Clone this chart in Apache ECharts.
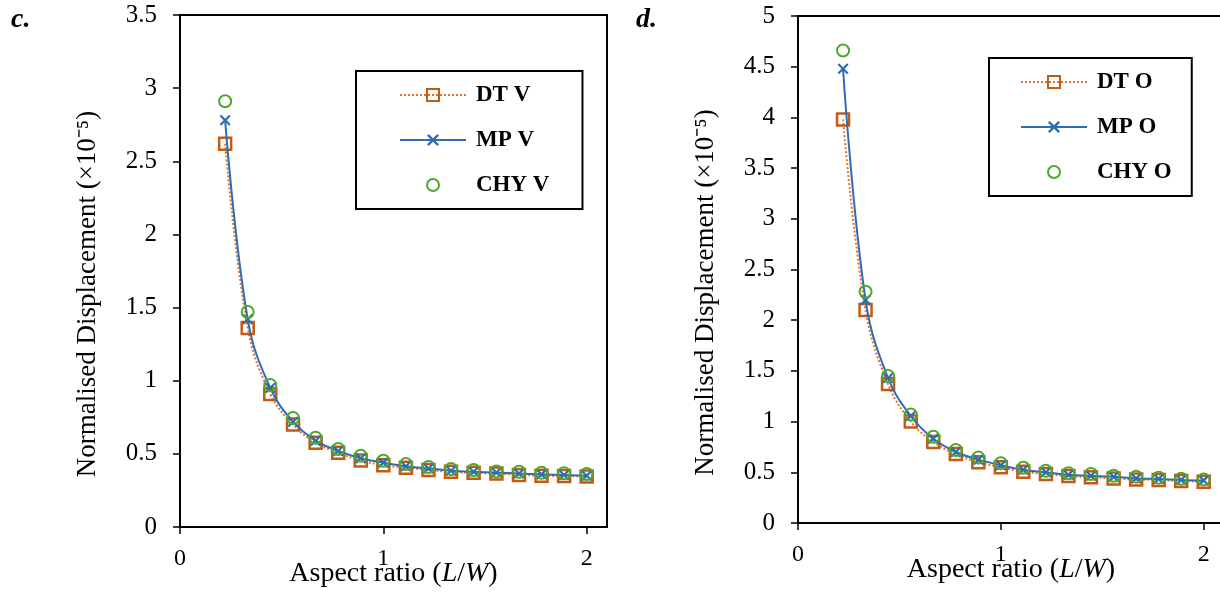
<!DOCTYPE html>
<html>
<head>
<meta charset="utf-8">
<script src="https://cdn.jsdelivr.net/npm/echarts@6/dist/echarts.min.js"></script>
<style>
html,body{margin:0;padding:0;background:#fff;}
#chart{width:1220px;height:592px;}
</style>
</head>
<body>
<div id="chart"></div>
<script>
// Aspect ratio L/W
const aspect = [0.222,0.333,0.444,0.556,0.667,0.778,0.889,1.0,1.111,1.222,1.333,1.444,1.556,1.667,1.778,1.889,2.0];
// Panel c (V)
const dtV  = [2.62,1.36,0.91,0.70,0.576,0.508,0.455,0.422,0.405,0.39,0.377,0.37,0.366,0.356,0.351,0.348,0.345];
const mpV  = [2.78,1.42,0.95,0.72,0.59,0.52,0.47,0.44,0.415,0.40,0.385,0.378,0.372,0.365,0.36,0.355,0.35];
const chyV = [2.91,1.47,0.97,0.745,0.61,0.533,0.487,0.453,0.43,0.41,0.396,0.39,0.38,0.378,0.37,0.367,0.362];
// Panel d (O)
const dtO  = [3.98,2.10,1.37,1.00,0.80,0.68,0.60,0.55,0.506,0.483,0.463,0.45,0.44,0.428,0.424,0.414,0.407];
const mpO  = [4.48,2.20,1.43,1.055,0.83,0.70,0.625,0.57,0.525,0.50,0.475,0.465,0.455,0.44,0.435,0.425,0.42];
const chyO = [4.66,2.28,1.45,1.07,0.85,0.72,0.645,0.59,0.545,0.516,0.49,0.483,0.466,0.457,0.447,0.437,0.43];

const xTicks = [0,1,2];
const yTicksC = [0,0.5,1,1.5,2,2.5,3,3.5];
const yTicksD = [0,0.5,1,1.5,2,2.5,3,3.5,4,4.5,5];
const namesC = ['DT V','MP V','CHY V'];
const namesD = ['DT O','MP O','CHY O'];
const xTitle = 'Aspect ratio ({i|L}/{i|W})';
const yTitle = 'Normalised Displacement (×10⁻⁵)';

const FONT = '"Liberation Serif","Times New Roman",serif';
const ORANGE_LINE = '#E0732F';
const ORANGE = '#C55A11';
const BLUE = '#2E6DB4';
const GREEN = '#4EA72E';
const CROSS = 'path://M0,1.4 L1.4,0 L5,3.6 L8.6,0 L10,1.4 L6.4,5 L10,8.6 L8.6,10 L5,6.4 L1.4,10 L0,8.6 L3.6,5 Z';

function pairs(xs, ys){ return xs.map((x,i)=>[x, ys[i]]); }

function xAxisFor(gi){
  return {
    type:'value', gridIndex:gi, min:0, max:2.1, interval:1,
    name: xTitle, nameLocation:'middle', nameGap:33, nameMoveOverlap:false,
    nameTextStyle:{fontFamily:FONT, fontSize:28, color:'#000', rich:{i:{fontFamily:FONT, fontSize:28, fontStyle:'italic', color:'#000'}}},
    axisLine:{show:true, onZero:false, lineStyle:{color:'#000', width:2}},
    axisTick:{show:true, length:7, lineStyle:{color:'#000', width:1.5}, customValues:xTicks},
    axisLabel:{fontFamily:FONT, fontSize:24, color:'#000', margin:20, customValues:xTicks},
    splitLine:{show:false}
  };
}
function yAxisFor(gi, max, ticks){
  return {
    type:'value', gridIndex:gi, min:0, max:max, interval:0.5,
    name: yTitle, nameLocation:'middle', nameGap:79, nameMoveOverlap:false,
    nameTextStyle:{fontFamily:FONT, fontSize:27, color:'#000', padding:[0,46,0,0]},
    axisLine:{show:true, onZero:false, lineStyle:{color:'#000', width:2}},
    axisTick:{show:true, length:7, lineStyle:{color:'#000', width:1.5}},
    axisLabel:{fontFamily:FONT, fontSize:25, color:'#000', margin:23},
    splitLine:{show:false}
  };
}
function seriesFor(gi, names, dt, mp, chy){
  return [
    {name:names[0], type:'line', xAxisIndex:gi, yAxisIndex:gi, data:pairs(aspect, dt), smooth:0.4,
     symbol:'rect', symbolSize:12, z:2,
     lineStyle:{color:ORANGE_LINE, width:2, type:'dotted'},
     itemStyle:{color:'rgba(255,255,255,0)', borderColor:ORANGE, borderWidth:2.5}},
    {name:names[1], type:'line', xAxisIndex:gi, yAxisIndex:gi, data:pairs(aspect, mp), smooth:0.4,
     symbol:CROSS, symbolSize:11, z:3,
     lineStyle:{color:BLUE, width:2},
     itemStyle:{color:BLUE, borderWidth:0}},
    {name:names[2], type:'line', xAxisIndex:gi, yAxisIndex:gi, data:pairs(aspect, chy),
     symbol:'circle', symbolSize:12, z:4,
     lineStyle:{color:GREEN, width:0, opacity:0},
     itemStyle:{color:'rgba(255,255,255,0)', borderColor:GREEN, borderWidth:2}}
  ];
}
function legendFor(names, left, top, pad){
  return {
    data:names, orient:'vertical', left:left, top:top, padding:pad,
    itemWidth:66, itemHeight:15, itemGap:21,
    borderColor:'#000', borderWidth:2, backgroundColor:'#fff',
    selectedMode:false,
    textStyle:{fontFamily:FONT, fontSize:23, fontWeight:'bold', color:'#000', lineHeight:24, padding:[0,0,0,5]}
  };
}

const chart = echarts.init(document.getElementById('chart'), null, {renderer:'canvas'});
chart.setOption({
  animation:false,
  backgroundColor:'#fff',
  grid:[
    {left:180, top:15, width:427, height:512, show:true, borderColor:'#000', borderWidth:2, backgroundColor:'transparent', containLabel:false, outerBoundsMode:'none'},
    {left:798, top:16, width:426, height:507, show:true, borderColor:'#000', borderWidth:2, backgroundColor:'transparent', containLabel:false, outerBoundsMode:'none'}
  ],
  xAxis:[xAxisFor(0), xAxisFor(1)],
  yAxis:[yAxisFor(0, 3.5, yTicksC), yAxisFor(1, 5, yTicksD)],
  legend:[
    legendFor(namesC, 356, 71, [12,33,12,43]),
    legendFor(namesD, 989, 58, [12,20,12,31])
  ],
  graphic:[
    {type:'text', left:11, top:6, style:{text:'c.', font:'italic bold 28px "Liberation Serif", serif', fill:'#000'}},
    {type:'text', left:636, top:6, style:{text:'d.', font:'italic bold 28px "Liberation Serif", serif', fill:'#000'}}
  ],
  series:[].concat(seriesFor(0, namesC, dtV, mpV, chyV), seriesFor(1, namesD, dtO, mpO, chyO))
});
</script>
</body>
</html>
